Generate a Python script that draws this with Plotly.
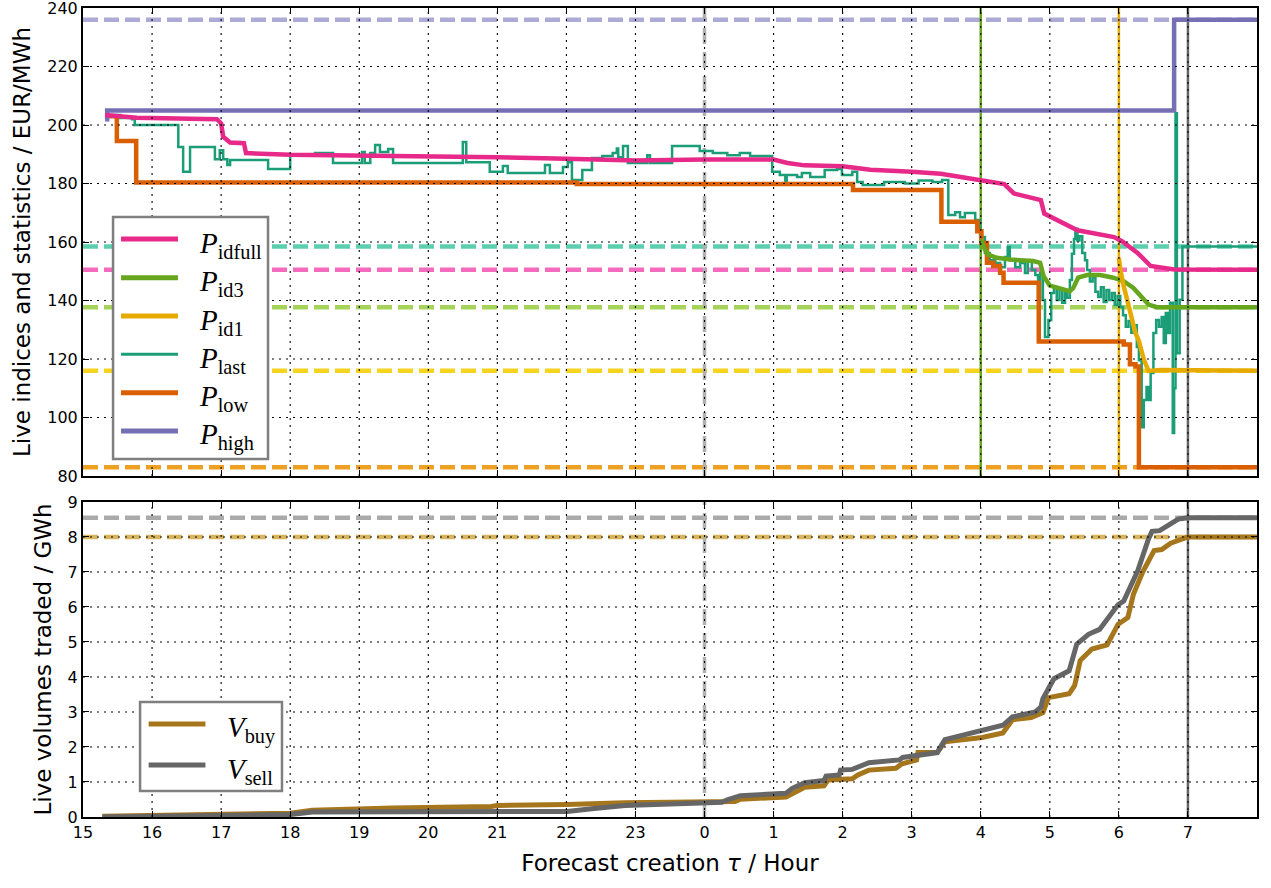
import plotly.graph_objects as go

# ---------------- data (time in hours; 24 = midnight of the delivery day) ----------------
hour_ticks = list(range(15, 32))
hour_tick_labels = [str(h % 24) for h in hour_ticks]
price_ticks = [80, 100, 120, 140, 160, 180, 200, 220, 240]
volume_ticks = [0, 1, 2, 3, 4, 5, 6, 7, 8, 9]

p_idfull_t = [15.32, 15.78, 16.94, 17.0, 17.03, 17.13, 17.33, 17.36, 18.0, 19.0, 20.0, 21.0, 22.0, 23.0,
              24.0, 25.0, 25.2, 25.45, 26.0, 26.4, 27.0, 27.42, 28.0, 28.34, 28.48, 28.87, 28.92, 29.16,
              29.4, 29.93, 30.05, 30.27, 30.46, 30.8, 32.0]
p_idfull_v = [203.4, 202.5, 202.0, 200.5, 196.0, 194.0, 193.8, 190.4, 189.8, 189.6, 189.5, 189.0, 188.5, 187.9,
              188.2, 188.2, 187.0, 186.2, 185.9, 184.7, 184.0, 183.3, 181.1, 179.8, 176.6, 174.3, 169.7, 166.9,
              164.0, 161.7, 160.2, 156.3, 151.8, 150.6, 150.5]

p_id3_t = [28.0, 28.06, 28.11, 28.23, 28.43, 28.76, 28.86, 28.91, 29.0, 29.15, 29.29, 29.34, 29.41, 29.54,
           29.73, 29.92, 30.07, 30.21, 30.31, 30.43, 30.55, 32.0]
p_id3_v = [160.9, 157.4, 155.7, 154.6, 154.0, 153.5, 152.9, 148.3, 145.1, 144.3, 143.2, 144.3, 147.8, 148.7,
           148.7, 147.8, 146.6, 144.3, 141.5, 138.6, 137.7, 137.7]

p_id1_t = [30.0, 30.02, 30.07, 30.16, 30.24, 30.29, 30.36, 30.43, 30.6, 32.0]
p_id1_v = [154.6, 150.6, 144.9, 136.9, 128.9, 126.1, 119.9, 115.9, 116.2, 116.0]

p_last_t = [15.35, 15.54, 15.71, 15.75, 16.38, 16.45, 16.55, 16.91, 16.98, 17.03, 17.09, 17.13, 17.68, 18.0,
            18.36, 18.62, 19.04, 19.08, 19.16, 19.23, 19.30, 19.42, 19.49, 20.5, 20.55, 20.89, 21.08, 21.15,
            21.69, 21.76, 21.95, 22.02, 22.08, 22.23, 22.37, 22.52, 22.67, 22.73, 22.75, 22.82, 22.89, 23.17,
            23.21, 23.53, 23.93, 24.12, 24.33, 24.51, 24.66, 24.98, 25.09, 25.17, 25.19, 25.34, 25.41, 25.53,
            25.74, 25.92, 25.99, 26.14, 26.21, 26.29, 26.6, 26.9, 27.1, 27.3, 27.44, 27.53, 27.63, 27.70,
            27.77, 27.92, 27.99, 28.06, 28.13, 28.21, 28.28, 28.35, 28.39, 28.42, 28.50, 28.57, 28.64, 28.68,
            28.74, 28.79, 28.83, 28.86, 28.90, 28.93, 28.98, 29.02, 29.06, 29.10, 29.14, 29.18, 29.22, 29.25,
            29.29, 29.32, 29.35, 29.37, 29.40, 29.43, 29.47, 29.51, 29.54, 29.58, 29.62, 29.66, 29.70, 29.74,
            29.78, 29.82, 29.86, 29.90, 29.94, 29.98, 30.02, 30.06, 30.10, 30.14, 30.18, 30.22, 30.26, 30.29,
            30.33, 30.36, 30.40, 30.43, 30.46, 30.50, 30.54, 30.58, 30.62, 30.65, 30.68, 30.71, 30.74, 30.78,
            30.80, 30.82, 30.84, 30.88, 30.92, 32.0]
p_last_v = [203.4, 202.4, 202.0, 200.0, 192.5, 184.0, 192.5, 188.3, 191.4, 188.3, 186.3, 188.0, 185.0, 189.7,
            190.4, 187.0, 190.8, 187.0, 190.4, 193.2, 190.8, 191.8, 187.0, 194.2, 187.3, 184.0, 186.0, 183.6,
            186.3, 183.6, 185.6, 187.3, 181.2, 184.6, 188.7, 189.4, 190.4, 192.0, 189.0, 192.8, 187.0, 189.7,
            187.0, 192.8, 191.1, 190.4, 189.7, 190.4, 189.4, 184.0, 182.9, 180.9, 182.9, 182.2, 183.6, 182.2,
            184.6, 185.0, 182.9, 184.0, 180.5, 179.5, 180.5, 180.0, 181.0, 180.5, 181.2, 169.2, 170.2, 168.5,
            169.9, 167.5, 161.7, 156.2, 153.8, 152.8, 151.4, 154.9, 158.3, 153.8, 151.4, 152.8, 149.4, 153.8,
            150.4, 148.7, 140.2, 149.4, 140.2, 127.5, 133.3, 142.6, 144.6, 140.2, 143.6, 139.2, 142.6, 140.9,
            147.0, 156.0, 161.0, 164.5, 160.5, 162.0, 156.2, 153.8, 150.4, 146.5, 148.0, 143.0, 141.2, 144.5,
            139.5, 143.6, 140.2, 142.6, 138.5, 141.5, 137.8, 135.0, 131.0, 133.0, 129.0, 131.5, 124.1, 119.6,
            96.7, 106.0, 110.4, 106.0, 115.2, 128.9, 133.3, 131.0, 134.4, 125.5, 135.7, 128.9, 139.2, 94.7,
            110.0, 204.0, 122.0, 140.3, 158.5, 158.5]

p_low_t = [15.32, 15.49, 15.77, 22.15, 26.15, 27.43, 27.95, 28.01, 28.09, 28.18, 28.28, 28.33, 28.84, 30.07,
           30.16, 30.24, 30.29, 32.0]
p_low_v = [203.0, 194.5, 180.3, 179.8, 177.8, 166.9, 163.7, 159.7, 152.9, 151.8, 149.5, 146.1, 126.0, 125.0,
           118.2, 117.4, 83.0, 83.0]

p_high_t = [15.32, 15.35, 30.80, 32.0]
p_high_v = [202.0, 205.0, 236.0, 236.0]

final_price_names = ["P_high", "P_last", "P_idfull", "P_id3", "P_id1", "P_low"]
final_price_values = [236.0, 158.5, 150.5, 137.7, 116.0, 83.0]

v_buy_t = [15.28, 17.29, 18.0, 18.32, 19.23, 19.49, 20.91, 21.0, 22.01, 22.4, 22.85, 24.44, 24.52, 25.18,
           25.29, 25.45, 25.73, 25.79, 26.14, 26.22, 26.38, 26.77, 26.85, 27.07, 27.09, 27.37, 27.48, 27.75,
           28.02, 28.32, 28.46, 28.73, 28.9, 28.98, 29.28, 29.36, 29.44, 29.61, 29.83, 29.99, 30.13, 30.21,
           30.35, 30.51, 30.62, 30.75, 30.92, 31.0, 32.0]
v_buy_v = [0.02, 0.07, 0.11, 0.19, 0.24, 0.26, 0.30, 0.33, 0.36, 0.39, 0.41, 0.44, 0.51, 0.57,
           0.68, 0.85, 0.89, 1.06, 1.09, 1.20, 1.34, 1.39, 1.51, 1.63, 1.84, 1.84, 2.15, 2.21,
           2.27, 2.40, 2.78, 2.84, 2.98, 3.41, 3.52, 3.76, 4.47, 4.80, 4.92, 5.51, 5.70, 6.36,
           7.02, 7.61, 7.64, 7.82, 7.95, 8.0, 8.0]

v_sell_t = [15.28, 17.29, 18.0, 18.32, 22.01, 22.4, 22.85, 23.94, 24.25, 24.33, 24.52, 25.18, 25.27, 25.45,
            25.73, 25.76, 25.95, 25.97, 26.14, 26.38, 26.82, 26.87, 27.37, 27.48, 27.75, 28.02, 28.32, 28.46,
            28.79, 28.87, 28.9, 29.06, 29.28, 29.39, 29.56, 29.72, 29.86, 29.99, 30.07, 30.27, 30.43, 30.48,
            30.59, 30.75, 30.86, 31.0, 32.0]
v_sell_v = [0.0, 0.03, 0.07, 0.14, 0.16, 0.24, 0.33, 0.40, 0.42, 0.49, 0.61, 0.68, 0.82, 0.98,
            1.04, 1.17, 1.20, 1.34, 1.36, 1.55, 1.63, 1.70, 1.84, 2.21, 2.35, 2.46, 2.62, 2.86,
            3.0, 3.14, 3.38, 3.95, 4.18, 4.94, 5.22, 5.36, 5.74, 6.07, 6.17, 7.02, 7.95, 8.16,
            8.18, 8.39, 8.51, 8.55, 8.55]

final_volume_names = ["V_sell", "V_buy"]
final_volume_values = [8.55, 8.0]

midnight_hour = 24
id3_start_hour = 28
id1_start_hour = 30
delivery_hour = 31

# ---------------- styling ----------------
C_IDFULL, C_ID3, C_ID1, C_LAST, C_LOW, C_HIGH = "#e7298a", "#66a61e", "#e6ab02", "#1b9e77", "#d95f02", "#7570b3"
C_BUY, C_SELL = "#a6761d", "#666666"
light_price = {"P_high": "#aeaad6", "P_last": "#5ccfb0", "P_idfull": "#f46bbd",
               "P_id3": "#a6d45a", "P_id1": "#f5d31e", "P_low": "#eda021"}
light_volume = {"V_sell": "#aaaaaa", "V_buy": "#d8b45e"}

X0, X1 = 15, 32
TICKFONT = dict(family="DejaVu Sans", size=16, color="black")
TITLEFONT = dict(family="DejaVu Sans", size=23, color="black")

fig = go.Figure()

def add(t, v, color, width, axis, shape):
    fig.add_trace(go.Scatter(x=t, y=v, mode="lines", line=dict(color=color, width=width, shape=shape),
                             xaxis="x" if axis == 1 else "x2", yaxis="y" if axis == 1 else "y2",
                             showlegend=False, hoverinfo="skip"))

add(p_last_t, p_last_v, C_LAST, 2.5, 1, "hv")
add(p_low_t, p_low_v, C_LOW, 4.5, 1, "hv")
add(p_high_t, p_high_v, C_HIGH, 4.5, 1, "hv")
add(p_id3_t, p_id3_v, C_ID3, 4.5, 1, "linear")
add(p_id1_t, p_id1_v, C_ID1, 4.5, 1, "linear")
add(p_idfull_t, p_idfull_v, C_IDFULL, 4.5, 1, "linear")
add(v_buy_t, v_buy_v, C_BUY, 5, 2, "linear")
add(v_sell_t, v_sell_v, C_SELL, 5, 2, "linear")

shapes = []
# horizontal dashed final values
for name, val in zip(final_price_names, final_price_values):
    shapes.append(dict(type="line", xref="x domain", yref="y", x0=0, x1=1, y0=val, y1=val, layer="below",
                       line=dict(color=light_price[name], width=4.5, dash="15px,6px")))
for name, val in zip(final_volume_names, final_volume_values):
    shapes.append(dict(type="line", xref="x2 domain", yref="y2", x0=0, x1=1, y0=val, y1=val, layer="below",
                       line=dict(color=light_volume[name], width=4.5, dash="15px,6px")))
# vertical event lines
for yr in ["y domain", "y2 domain"]:
    xr = "x" if yr == "y domain" else "x2"
    shapes.append(dict(type="line", xref=xr, yref=yr, x0=midnight_hour, x1=midnight_hour, y0=0, y1=1,
                       layer="below", line=dict(color="#b0b0b0", width=3.5, dash="16px,8px")))
    shapes.append(dict(type="line", xref=xr, yref=yr, x0=delivery_hour, x1=delivery_hour, y0=0, y1=1,
                       layer="below", line=dict(color="#666666", width=2.5)))
shapes.append(dict(type="line", xref="x", yref="y domain", x0=id3_start_hour, x1=id3_start_hour, y0=0, y1=1,
                   layer="below", line=dict(color=C_ID3, width=2.5)))
shapes.append(dict(type="line", xref="x", yref="y domain", x0=id1_start_hour, x1=id1_start_hour, y0=0, y1=1,
                   layer="below", line=dict(color=C_ID1, width=2.5)))
# dotted grid drawn above the data (matplotlib classic)
GRID = dict(color="black", width=1.1, dash="2px,5px")
for h in hour_ticks[1:]:
    shapes.append(dict(type="line", xref="x", yref="y domain", x0=h, x1=h, y0=0, y1=1, layer="above", line=GRID))
    shapes.append(dict(type="line", xref="x2", yref="y2 domain", x0=h, x1=h, y0=0, y1=1, layer="above", line=GRID))
for p in price_ticks[1:-1]:
    shapes.append(dict(type="line", xref="x domain", yref="y", x0=0, x1=1, y0=p, y1=p, layer="above", line=GRID))
for v in volume_ticks[1:-1]:
    shapes.append(dict(type="line", xref="x2 domain", yref="y2", x0=0, x1=1, y0=v, y1=v, layer="above", line=GRID))

# manual legends
annotations = []
top_legend = [("idfull", C_IDFULL, 5), ("id3", C_ID3, 5), ("id1", C_ID1, 5),
              ("last", C_LAST, 3), ("low", C_LOW, 5), ("high", C_HIGH, 5)]
shapes.append(dict(type="rect", xref="paper", yref="paper", x0=0.0256, x1=0.1576, y0=0.4425, y1=0.7417,
                   layer="above", fillcolor="white", line=dict(color="#7f7f7f", width=2.5)))
ys = [0.7145, 0.6666, 0.6193, 0.5719, 0.5245, 0.4771]
for (sub, col, w), yy in zip(top_legend, ys):
    shapes.append(dict(type="line", xref="paper", yref="paper", x0=0.0324, x1=0.0809, y0=yy, y1=yy,
                       layer="above", line=dict(color=col, width=w)))
    annotations.append(dict(xref="paper", yref="paper", x=0.0971, y=yy - 0.007, xanchor="left", yanchor="middle",
                            showarrow=False, text="<i>P</i><sub>%s</sub>" % sub,
                            font=dict(family="Liberation Serif", size=29, color="black")))
bot_legend = [("buy", C_BUY), ("sell", C_SELL)]
shapes.append(dict(type="rect", xref="paper", yref="paper", x0=0.0486, x1=0.1695, y0=0.0321, y1=0.1422,
                   layer="above", fillcolor="white", line=dict(color="#7f7f7f", width=2.5)))
for (sub, col), yy in zip(bot_legend, [0.115, 0.0643]):
    shapes.append(dict(type="line", xref="paper", yref="paper", x0=0.0559, x1=0.1043, y0=yy, y1=yy,
                       layer="above", line=dict(color=col, width=5)))
    annotations.append(dict(xref="paper", yref="paper", x=0.121, y=yy - 0.007, xanchor="left", yanchor="middle",
                            showarrow=False, text="<i>V</i><sub>%s</sub>" % sub,
                            font=dict(family="Liberation Serif", size=29, color="black")))

axis_common = dict(showline=True, linecolor="black", linewidth=2, mirror="allticks", ticks="inside",
                   ticklen=6, tickwidth=1.2, tickcolor="black", showgrid=False, zeroline=False,
                   tickfont=TICKFONT, automargin=False, ticklabeloverflow="allow")

fig.update_layout(
    width=1271, height=888,
    margin=dict(l=83, r=14, t=8, b=71),
    paper_bgcolor="white", plot_bgcolor="white",
    shapes=shapes, annotations=annotations,
    xaxis=dict(domain=[0, 1], range=[X0, X1], tickvals=hour_ticks, ticktext=hour_tick_labels,
               showticklabels=False, anchor="y", **axis_common),
    yaxis=dict(domain=[0.4215, 1], range=[80, 240], tickvals=price_ticks, anchor="x",
               title=dict(text="Live indices and statistics / EUR/MWh", font=TITLEFONT, standoff=10),
               **axis_common),
    xaxis2=dict(domain=[0, 1], range=[X0, X1], tickvals=hour_ticks, ticktext=hour_tick_labels,
                anchor="y2", matches="x",
                title=dict(text="Forecast creation <i>τ</i> / Hour", font=TITLEFONT, standoff=14),
                **axis_common),
    yaxis2=dict(domain=[0, 0.3894], range=[0, 9], tickvals=volume_ticks, anchor="x2",
                title=dict(text="Live volumes traded / GWh", font=TITLEFONT, standoff=10),
                **axis_common),
)

fig.write_html("out.html", config={"displayModeBar": False},
               post_script="document.body.style.margin='0';document.body.style.overflow='hidden';")
